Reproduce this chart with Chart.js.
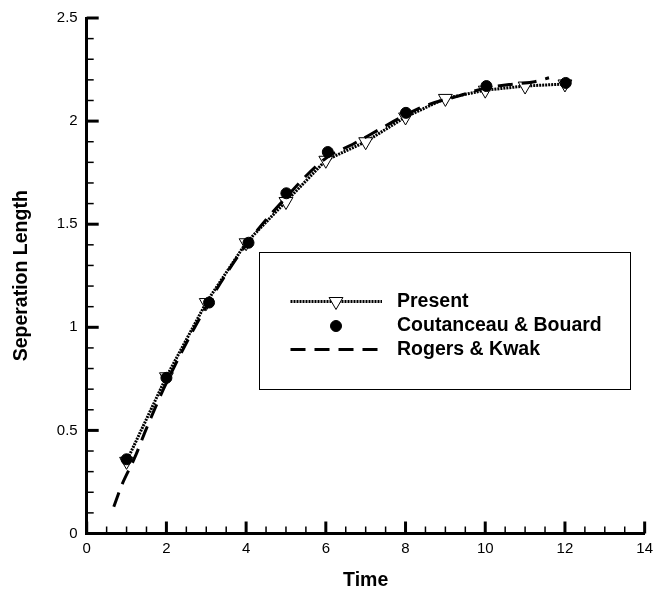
<!DOCTYPE html>
<html><head><meta charset="utf-8">
<script src="https://cdn.jsdelivr.net/npm/chart.js@4.4.1/dist/chart.umd.min.js"></script>
<style>html,body{margin:0;padding:0;background:#fff}#wrap{width:659px;height:593px}</style>
</head><body><div id="wrap"><canvas id="c" width="659" height="593"></canvas></div>
<script>
// ---- data ----
const presentTime   = [1, 2, 3, 4, 5, 6, 7, 8, 9, 10, 11, 12];
const presentLength = [0.35, 0.76, 1.12, 1.41, 1.61, 1.81, 1.90, 2.02, 2.11, 2.15, 2.17, 2.18];
const coutTime      = [1.0, 2.0, 3.07, 4.06, 5.01, 6.05, 8.01, 10.03, 12.02];
const coutLength    = [0.36, 0.755, 1.12, 1.41, 1.65, 1.85, 2.04, 2.17, 2.185];
const rogersTime    = [0.68, 0.87, 1.21, 1.5, 2.0, 3.0, 4.0, 5.0, 6.0, 6.7, 7.3, 8.0, 8.5, 9.3, 10.0, 10.6, 11.2, 11.6];
const rogersLength  = [0.13, 0.23, 0.37, 0.51, 0.73, 1.10, 1.40, 1.63, 1.82, 1.89, 1.955, 2.03, 2.075, 2.12, 2.16, 2.177, 2.19, 2.21];
const seriesNames   = ['Present', 'Coutanceau & Bouard', 'Rogers & Kwak'];
const xTickLabels   = ['0', '2', '4', '6', '8', '10', '12', '14'];
const yTickLabels   = ['0', '0.5', '1', '1.5', '2', '2.5'];
const xTitle = 'Time';
const yTitle = 'Seperation Length';

const pts = (xs, ys) => xs.map((x, i) => ({x, y: ys[i]}));
const FONT = "'Liberation Sans', Arial, Helvetica, sans-serif";

const innerTicks = {
  id: 'innerTicks',
  afterDatasetsDraw(chart) {
    const {ctx, chartArea: a, scales: {x, y}} = chart;
    ctx.save();
    ctx.strokeStyle = '#000';
    ctx.lineCap = 'butt';
    const xMax = Number(xTickLabels[xTickLabels.length - 1]);
    const yMax = Number(yTickLabels[yTickLabels.length - 1]);
    for (let k = 0; k <= xMax * 2 + 1e-9; k++) {
      const v = k / 2, major = (k % 4 === 0);
      const px = x.getPixelForValue(v);
      ctx.lineWidth = major ? 3 : 1.5;
      const len = major ? 12 : 7;
      ctx.beginPath(); ctx.moveTo(px, a.bottom); ctx.lineTo(px, a.bottom - len); ctx.stroke();
    }
    for (let k = 0; k <= Math.round(yMax * 10); k++) {
      const v = k / 10, major = (k % 5 === 0);
      const py = y.getPixelForValue(v);
      ctx.lineWidth = major ? 3 : 1.5;
      const len = major ? 12 : 7;
      ctx.beginPath(); ctx.moveTo(a.left, py); ctx.lineTo(a.left + len, py); ctx.stroke();
    }
    ctx.restore();
  }
};

function drawMarker(ctx, ds, cx, cy) {
  const r = ds.pointRadius;
  ctx.save();
  ctx.setLineDash([]);
  ctx.lineWidth = ds.pointBorderWidth;
  ctx.strokeStyle = ds.pointBorderColor;
  ctx.fillStyle = ds.pointBackgroundColor;
  ctx.beginPath();
  if (ds.pointStyle === 'triangle') {
    let rad = (ds.pointRotation || 0) * Math.PI / 180;
    for (let i = 0; i < 3; i++) {
      const px = cx + Math.sin(rad) * r, py = cy - Math.cos(rad) * r;
      if (i === 0) ctx.moveTo(px, py); else ctx.lineTo(px, py);
      rad += 2 * Math.PI / 3;
    }
    ctx.closePath();
  } else {
    ctx.arc(cx, cy, r, 0, Math.PI * 2);
  }
  ctx.fill(); ctx.stroke();
  ctx.restore();
}

const boxLegend = {
  id: 'boxLegend',
  afterDraw(chart) {
    const ctx = chart.ctx;
    ctx.save();
    ctx.fillStyle = '#fff';
    ctx.fillRect(259.5, 252.5, 371, 137);
    ctx.strokeStyle = '#000';
    ctx.lineWidth = 1;
    ctx.strokeRect(259.5, 252.5, 371, 137);
    const rows = [301.5, 326, 349.5];
    chart.data.datasets.forEach((ds, i) => {
      const yy = rows[i];
      if (ds.showLine !== false) {
        ctx.save();
        ctx.strokeStyle = ds.borderColor;
        ctx.lineWidth = ds.borderWidth;
        ctx.setLineDash(ds.borderDash || []);
        ctx.beginPath(); ctx.moveTo(290.5, yy); ctx.lineTo(382, yy); ctx.stroke();
        ctx.restore();
      }
      if (ds.pointRadius > 0) drawMarker(ctx, ds, 336, yy);
      ctx.fillStyle = '#000';
      ctx.font = 'bold 19.5px ' + FONT;
      ctx.textBaseline = 'middle';
      ctx.textAlign = 'left';
      ctx.fillText(ds.label, 397, yy);
    });
    ctx.restore();
  }
};

new Chart(document.getElementById('c'), {
  type: 'scatter',
  data: {
    datasets: [
      {
        label: seriesNames[0], data: pts(presentTime, presentLength),
        showLine: true, borderColor: '#000', borderWidth: 3, borderDash: [2, 1],
        pointStyle: 'triangle', pointRotation: 180, pointRadius: 8,
        pointBackgroundColor: '#fff', pointBorderColor: '#000', pointBorderWidth: 1,
        tension: 0, order: 2
      },
      {
        label: seriesNames[1], data: pts(coutTime, coutLength),
        showLine: false, borderColor: '#000',
        pointStyle: 'circle', pointRadius: 5.5,
        pointBackgroundColor: '#000', pointBorderColor: '#000', pointBorderWidth: 1,
        order: 0
      },
      {
        label: seriesNames[2], data: pts(rogersTime, rogersLength),
        showLine: true, borderColor: '#000', borderWidth: 3, borderDash: [15, 9],
        pointRadius: 0, cubicInterpolationMode: 'monotone', order: 1
      }
    ]
  },
  options: {
    responsive: false, animation: false, devicePixelRatio: 1,
    layout: {padding: {top: 16.5, right: 7.3, left: 0, bottom: 0}},
    plugins: {legend: {display: false}, tooltip: {enabled: false}},
    scales: {
      x: {
        type: 'linear', min: Number(xTickLabels[0]), max: Number(xTickLabels[xTickLabels.length - 1]),
        afterFit: s => { s.height = 59.5; },
        afterBuildTicks: s => { s.ticks = xTickLabels.map(t => ({value: Number(t)})); },
        ticks: {color: '#000', font: {family: FONT, size: 15}, padding: 6, maxRotation: 0, autoSkip: false,
                callback: (v) => xTickLabels.find(t => Number(t) === v) ?? ''},
        grid: {display: false, drawTicks: false},
        border: {display: true, color: '#000', width: 3},
        title: {display: true, text: xTitle, color: '#000', font: {family: FONT, size: 19.5, weight: 'bold'}, padding: {top: 0, bottom: 1}}
      },
      y: {
        type: 'linear', min: Number(yTickLabels[0]), max: Number(yTickLabels[yTickLabels.length - 1]),
        afterFit: s => { s.width = 86.7; },
        afterBuildTicks: s => { s.ticks = yTickLabels.map(t => ({value: Number(t)})); },
        ticks: {color: '#000', font: {family: FONT, size: 15}, padding: 9, autoSkip: false,
                callback: (v) => yTickLabels.find(t => Number(t) === v) ?? ''},
        grid: {display: false, drawTicks: false},
        border: {display: true, color: '#000', width: 3},
        title: {display: true, text: yTitle, color: '#000', font: {family: FONT, size: 19.5, weight: 'bold'}, padding: {top: 10, bottom: 0}}
      }
    }
  },
  plugins: [innerTicks, boxLegend]
});
</script>
</body></html>
